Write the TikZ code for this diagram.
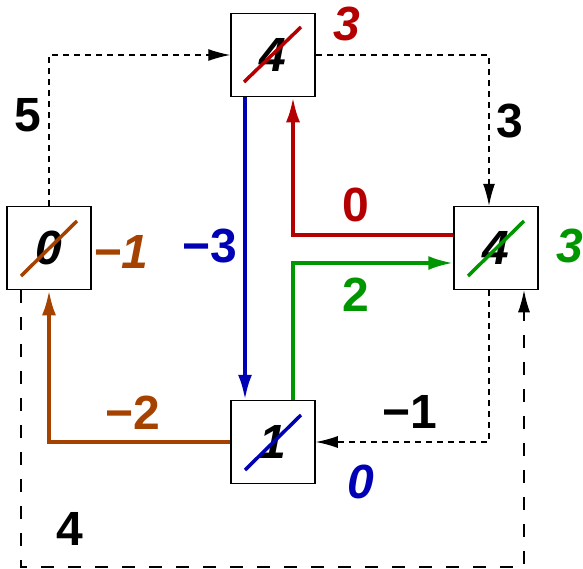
\documentclass[tikz,border=0pt]{standalone}
\usepackage{fontspec}
\setmainfont{Liberation Sans}
\usetikzlibrary{arrows.meta}
\definecolor{cred}{RGB}{180,0,0}
\definecolor{cblue}{RGB}{0,0,180}
\definecolor{cgreen}{RGB}{0,150,0}
\definecolor{cbrown}{RGB}{166,66,0}
\newcommand\bigfont{\fontsize{48}{48}\selectfont\bfseries}
\tikzset{
  box/.style={draw, line width=1.5pt, fill=white, minimum width=84pt, minimum height=83pt, inner sep=0pt, font=\bigfont\itshape},
  lbl/.style={font=\bigfont},
  val/.style={font=\bigfont\itshape},
  dsh/.style={line width=1.3pt, dash pattern=on 6pt off 5pt, -{Latex[length=22pt,width=12pt]}},
  dshlong/.style={line width=1.3pt, dash pattern=on 13pt off 14pt, -{Latex[length=22pt,width=12pt]}},
  edge/.style={line width=3.5pt, -{Latex[length=25pt,width=14pt]}},
  strike/.style={line width=3.5pt}
}
\begin{document}
\begin{tikzpicture}[x=1pt, y=-1pt]
\useasboundingbox (0,0) rectangle (583,568);

\node[box] (top) at (273,55) {4};
\node[box] (lft) at (49,248) {0};
\node[box] (rgt) at (496,248) {4};
\node[box] (bot) at (273,442) {1};

% crossed-out values
\draw[strike, cred] ([shift={(-29,27)}]top.center) -- ([shift={(28,-28)}]top.center);
\draw[strike, cbrown] ([shift={(-28,28)}]lft.center) -- ([shift={(28,-27)}]lft.center);
\draw[strike, cgreen] ([shift={(-28,28)}]rgt.center) -- ([shift={(28,-27)}]rgt.center);
\draw[strike, cblue] ([shift={(-28,28)}]bot.center) -- ([shift={(28,-27)}]bot.center);

% dashed edges
\coordinate (corner) at (21,567);
\draw[dsh] (lft.north) |- (top.west);
\draw[dsh] (top.east) -| ([xshift=-7pt]rgt.north);
\draw[dsh] ([xshift=-7pt]rgt.south) |- (bot.east);
\draw[dshlong] ([xshift=-28pt]lft.south) -- (corner) -| ([xshift=28pt]rgt.south);

% coloured edges
\draw[edge, cblue] ([xshift=-28pt]top.south) -- ([xshift=-28pt]bot.north);
\draw[edge, cred] ([yshift=13pt]rgt.west) -| ([xshift=20pt]top.south);
\draw[edge, cgreen] ([xshift=20pt]bot.north) |- ([yshift=-15pt]rgt.west);
\draw[edge, cbrown] (bot.west) -| (lft.south);

% edge weights
\node[lbl] (w5) at (28,115) {5};
\node[lbl] (w3) at (510,121) {3};
\node[lbl] (wm1) at (410,412) {−1};
\node[lbl] (w4) at (70,529) {4};
\node[lbl, cblue] (wm3) at (210,246) {−3};
\node[lbl, cred] (w0) at (356,205) {0};
\node[lbl, cgreen] (w2) at (356,295) {2};
\node[lbl, cbrown] (wm2) at (133,413) {−2};

% new values
\node[val, cred] (v3r) at (347,24) {3};
\node[val, cgreen] (v3g) at (570,246) {3};
\node[val, cbrown] (vm1) at (121,252) {−1};
\node[val, cblue] (v0) at (361,482) {0};
\end{tikzpicture}
\end{document}
